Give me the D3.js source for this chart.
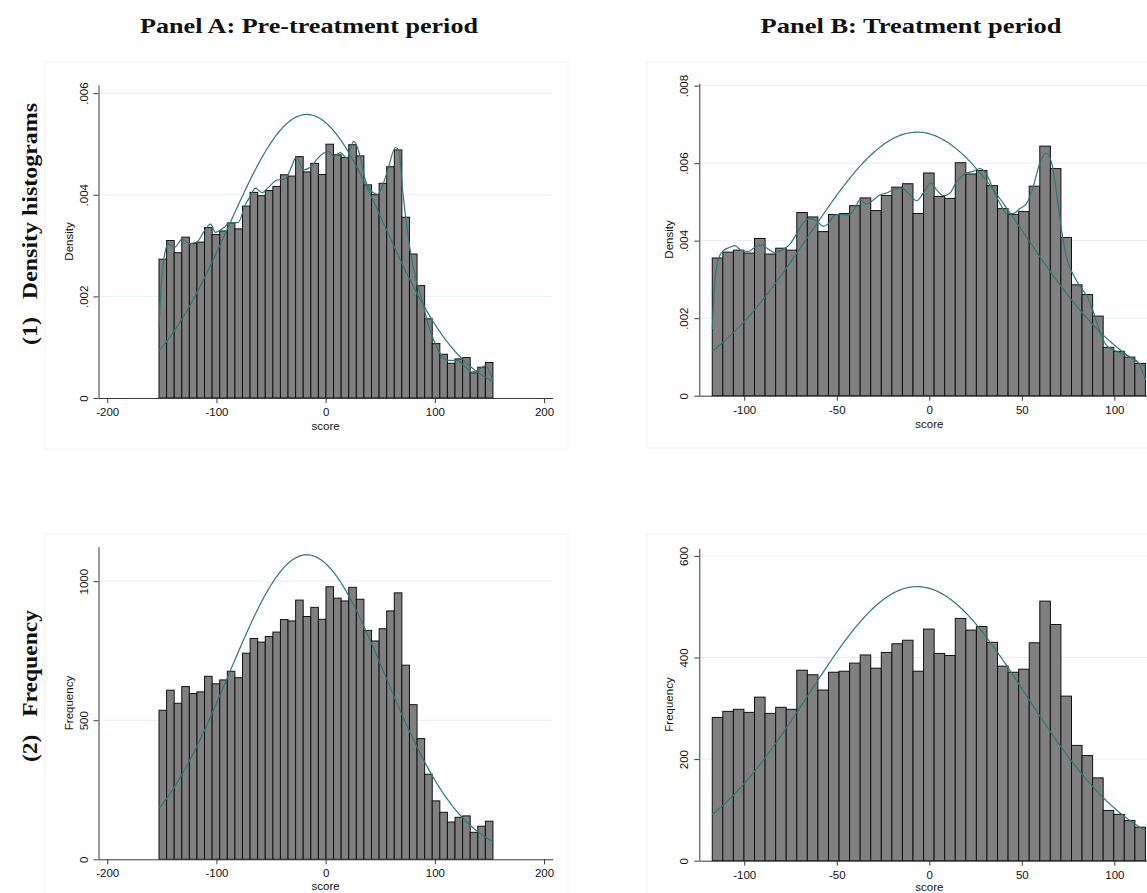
<!DOCTYPE html>
<html lang="en">
<head>
<meta charset="UTF-8">
<title>Score histograms</title>
<script src="https://d3js.org/d3.v7.min.js"></script>
<style>
    body { margin: 0; background: #fff; overflow: hidden; }
    svg { display: block; }
    .title { font-family: "Liberation Serif", "DejaVu Serif", serif; font-weight: bold; font-size: 20px; fill: #111; white-space: pre; }
    .axis text { font-family: "Liberation Sans", Arial, sans-serif; font-size: 11.5px; fill: #111; }
    .axis path, .axis line { stroke: #3a3a3a; stroke-width: 1; }
    .lab { font-family: "Liberation Sans", Arial, sans-serif; font-size: 11.5px; fill: #111; }
    .grid line { stroke: #e6eff0; stroke-width: 1; }
    .bar { fill: #808080; stroke: #111; stroke-width: 1; }
    .curve { fill: none; stroke: #2e786f; stroke-width: 1.2; }
</style>
</head>
<body>
<svg></svg>
<script>
// ---- data ----
// pre-treatment period: 44 bins
const preStart = -152.6;
const preWidth = 6.95;
const preCounts = [536, 608, 561, 621, 596, 602, 658, 631, 645, 676, 653, 741, 794, 781, 801, 817,
    862, 857, 932, 873, 906, 863, 980, 939, 929, 978, 935, 823, 785, 829, 893, 958,
    698, 556, 434, 306, 210, 169, 134, 151, 156, 97, 119, 137];

// treatment period: 41 bins
const trtStart = -117.3;
const trtWidth = 5.71;
const trtCounts = [282, 294, 298, 292, 322, 290, 302, 298, 375, 366, 336, 371, 373, 389, 405, 379,
    410, 427, 434, 373, 456, 408, 404, 477, 454, 461, 430, 383, 371, 377, 429, 511,
    465, 324, 227, 207, 163, 99, 91, 79, 66];

// kernel density lines (score, density x 1000)
const preKdX = [-152.6, -150, -147, -143.8, -138.6, -131.6, -124.6, -117.9, -110.8, -105.3, -101, -94,
    -87.3, -80.3, -73.6, -69, -64.4, -58.3, -52.2, -44.6, -36.9, -32.4, -26.9, -20.2, -13.4, -7.9,
    -1.8, 2.7, 7.3, 13.4, 19.5, 25.6, 31.8, 36.3, 42.4, 47.6, 53.1, 57.7, 63.8, 66.9, 70.8, 76,
    82.1, 88.2, 92.8, 98.9, 105, 112.7, 120.3, 127.9, 134, 141.7, 146.3, 153];
const preKdY = [1.40, 2.39, 2.88, 3.04, 2.96, 3.12, 3.04, 3.07, 3.30, 3.42, 3.26, 3.34,
    3.45, 3.45, 3.80, 3.97, 4.13, 4.04, 4.15, 4.29, 4.31, 4.49, 4.74, 4.49, 4.55, 4.70,
    4.82, 4.85, 4.76, 4.83, 4.72, 5.05, 4.74, 4.29, 4.06, 4.01, 4.24, 4.55, 4.93, 4.88, 4.03, 3.11,
    2.38, 1.93, 1.53, 1.14, 0.87, 0.74, 0.74, 0.61, 0.51, 0.58, 0.64, 0.35];

const trtKdX = [-117.3, -115.9, -114, -111.4, -107.7, -105, -101.4, -97.8, -94.2, -90.6, -87, -83.4,
    -78.9, -75.3, -71.7, -68.1, -64.5, -60.9, -57.3, -54.6, -51, -47.4, -43.8, -40.2, -37.5, -33.9,
    -30.3, -26.7, -23.1, -19.5, -15, -11.4, -6.8, -3.2, 0.7, 4, 7.6, 11.2, 14.8, 19.3, 23.8, 27.4,
    31, 34.6, 38.2, 41.8, 45.4, 49, 52.6, 56.2, 59.8, 63.1, 66.1, 68.8, 71.5, 74.2, 77.8, 82.3,
    85.9, 88.6, 92.3, 95.9, 100.4, 104.9, 109.4, 113, 116.9];
const trtKdY = [1.72, 2.95, 3.52, 3.74, 3.83, 3.87, 3.74, 3.72, 3.83, 3.89, 3.78, 3.69,
    3.78, 3.91, 4.18, 4.46, 4.57, 4.51, 4.37, 4.44, 4.66, 4.68, 4.66, 4.83, 5.05, 4.94,
    5.05, 5.18, 5.23, 5.31, 5.36, 5.23, 5.03, 5.23, 5.49, 5.31, 5.16, 5.23, 5.53, 5.73, 5.79, 5.86,
    5.71, 5.31, 4.96, 4.70, 4.70, 4.83, 4.96, 5.40, 6.01, 6.26, 6.01, 5.23, 4.26, 3.56, 3.12, 2.77,
    2.51, 2.16, 1.64, 1.29, 1.16, 1.07, 0.98, 0.85, 0.41];

// axis ticks
const preXTicks = [-200, -100, 0, 100, 200];
const trtXTicks = [-100, -50, 0, 50, 100];
const preDensTicks = [0, 0.002, 0.004, 0.006];
const preDensLabels = ["0", ".002", ".004", ".006"];
const trtDensTicks = [0, 0.002, 0.004, 0.006, 0.008];
const trtDensLabels = ["0", ".002", ".004", ".006", ".008"];
const preFreqTicks = [0, 500, 1000];
const trtFreqTicks = [0, 200, 400, 600];

const svg = d3.select("svg").attr("width", 1147).attr("height", 893);

// faint graph region borders
[[45, 62, 523, 387], [647, 62, 560, 386], [45, 534, 523, 400], [647, 534, 560, 400]].forEach(b => {
    svg.append("rect").attr("x", b[0]).attr("y", b[1]).attr("width", b[2]).attr("height", b[3])
        .attr("fill", "none").attr("stroke", "#f1f1f1");
});

// column and row headings
svg.append("text").attr("class", "title").attr("x", 309).attr("y", 33)
    .attr("text-anchor", "middle").attr("textLength", 338).attr("lengthAdjust", "spacingAndGlyphs")
    .text("Panel A: Pre-treatment period");
svg.append("text").attr("class", "title").attr("x", 911).attr("y", 33)
    .attr("text-anchor", "middle").attr("textLength", 301).attr("lengthAdjust", "spacingAndGlyphs")
    .text("Panel B: Treatment period");
svg.append("text").attr("class", "title").attr("transform", "translate(37,224) rotate(-90)")
    .attr("text-anchor", "middle").attr("textLength", 242).attr("lengthAdjust", "spacingAndGlyphs")
    .text("(1)   Density histograms");
svg.append("text").attr("class", "title").attr("transform", "translate(37,686) rotate(-90)")
    .attr("text-anchor", "middle").attr("textLength", 152).attr("lengthAdjust", "spacingAndGlyphs")
    .text("(2)   Frequency");

function drawPanel(o) {
    const g = svg.append("g");
    const x = d3.scaleLinear().domain(o.xDomain).range(o.xRange);
    const y = d3.scaleLinear().domain(o.yDomain).range(o.yRange);

    const n = d3.sum(o.counts);
    // density = count / (n * width); frequency keeps the raw counts
    const k = o.density ? 1 / (n * o.width) : 1;
    const bins = o.counts.map((c, i) => ({ x0: o.start + i * o.width, x1: o.start + (i + 1) * o.width, v: c * k }));

    // mean and sd from the binned data, for the normal overlay
    const mids = bins.map(b => (b.x0 + b.x1) / 2);
    const mean = d3.sum(o.counts.map((c, i) => c * mids[i])) / n;
    const sd = Math.sqrt(d3.sum(o.counts.map((c, i) => c * (mids[i] - mean) ** 2)) / (n - 1));

    // gridlines
    g.append("g").attr("class", "grid")
        .selectAll("line").data(o.yTicks.filter(t => t > 0)).enter().append("line")
        .attr("x1", o.xRange[0]).attr("x2", o.xRange[1])
        .attr("y1", d => y(d)).attr("y2", d => y(d));

    g.selectAll(".bar").data(bins).enter().append("rect")
        .attr("class", "bar")
        .attr("x", d => x(d.x0))
        .attr("width", d => x(d.x1) - x(d.x0))
        .attr("y", d => y(d.v))
        .attr("height", d => y(0) - y(d.v));

    // normal density curve, scaled like the bars
    const xs = d3.range(201).map(i => o.start + i * (o.width * o.counts.length) / 200);
    const normal = xs.map(v => {
        const dens = Math.exp(-0.5 * ((v - mean) / sd) ** 2) / (sd * Math.sqrt(2 * Math.PI));
        return [v, dens * n * o.width * k];
    });
    g.append("path").attr("class", "curve")
        .attr("d", d3.line().x(d => x(d[0])).y(d => y(d[1]))(normal));

    if (o.kdX) {
        const kd = o.kdX.map((v, i) => [v, o.kdY[i] / 1000]);
        g.append("path").attr("class", "curve").attr("stroke-width", 1)
            .attr("d", d3.line().curve(d3.curveMonotoneX).x(d => x(d[0])).y(d => y(d[1]))(kd));
    }

    // axes
    const xAxis = g.append("g").attr("class", "axis")
        .attr("transform", `translate(0,${o.yRange[0]})`)
        .call(d3.axisBottom(x).tickValues(o.xTicks).tickSize(5).tickSizeOuter(0).tickPadding(5).tickFormat(d3.format("d")));
    xAxis.selectAll("text").text(d => d < 0 ? "-" + Math.abs(d) : d);

    const yAxis = g.append("g").attr("class", "axis")
        .attr("transform", `translate(${o.xRange[0]},0)`)
        .call(d3.axisLeft(y).tickValues(o.yTicks).tickSize(5).tickSizeOuter(0)
            .tickFormat((d, i) => o.yLabels[i]));
    yAxis.selectAll("text")
        .attr("transform", "rotate(-90)")
        .attr("x", 0).attr("y", -15).attr("dy", "0.35em")
        .attr("text-anchor", "middle");

    g.append("text").attr("class", "lab")
        .attr("transform", `translate(${o.xRange[0] - 30},${(o.yRange[0] + o.yRange[1]) / 2}) rotate(-90)`)
        .attr("dy", "0.35em").attr("text-anchor", "middle").text(o.yTitle);
    g.append("text").attr("class", "lab")
        .attr("x", x(0)).attr("y", o.yRange[0] + o.titleGap)
        .attr("text-anchor", "middle").text("score");
}

drawPanel({
    xDomain: [-208, 208], xRange: [98.5, 552.8],
    yDomain: [0, 0.00616], yRange: [398, 85],
    counts: preCounts, start: preStart, width: preWidth, density: true,
    kdX: preKdX, kdY: preKdY, titleGap: 32,
    xTicks: preXTicks, yTicks: preDensTicks, yLabels: preDensLabels, yTitle: "Density"
});
drawPanel({
    xDomain: [-124.3, 124.3], xRange: [699.3, 1159.3],
    yDomain: [0, 0.00806], yRange: [395.7, 83.3],
    counts: trtCounts, start: trtStart, width: trtWidth, density: true,
    kdX: trtKdX, kdY: trtKdY, titleGap: 32,
    xTicks: trtXTicks, yTicks: trtDensTicks, yLabels: trtDensLabels, yTitle: "Density"
});
drawPanel({
    xDomain: [-208, 208], xRange: [98.5, 552.8],
    yDomain: [0, 1124], yRange: [859.3, 546.7],
    counts: preCounts, start: preStart, width: preWidth, density: false, titleGap: 31,
    xTicks: preXTicks, yTicks: preFreqTicks, yLabels: preFreqTicks.map(String), yTitle: "Frequency"
});
drawPanel({
    xDomain: [-124.3, 124.3], xRange: [699.3, 1159.3],
    yDomain: [0, 615], yRange: [860.7, 548.3],
    counts: trtCounts, start: trtStart, width: trtWidth, density: false, titleGap: 30,
    xTicks: trtXTicks, yTicks: trtFreqTicks, yLabels: trtFreqTicks.map(String), yTitle: "Frequency"
});
</script>
</body>
</html>
